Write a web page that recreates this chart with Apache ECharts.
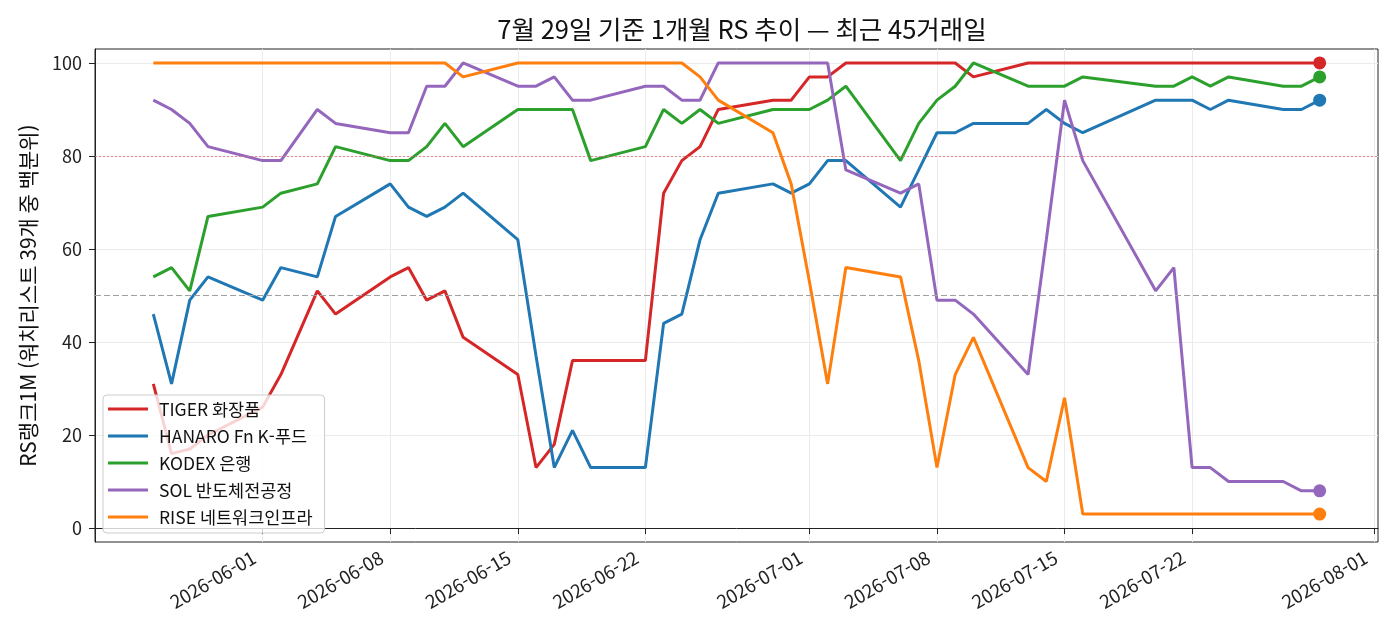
<!DOCTYPE html>
<html lang="ko">
<head>
  <meta charset="UTF-8">
  <title>RS 추이</title>
  <script src="https://cdn.jsdelivr.net/npm/echarts@6/dist/echarts.min.js"></script>
  <style>
    html, body { margin: 0; padding: 0; background: #fff; }
  </style>
</head>
<body>
  <div id="chart" style="width:1400px;height:644px;"></div>
  <script>
    // 거래일 (최근 45거래일)
    var dates = [
      '2026-05-26','2026-05-27','2026-05-28','2026-05-29',
      '2026-06-01','2026-06-02','2026-06-04','2026-06-05',
      '2026-06-08','2026-06-09','2026-06-10','2026-06-11','2026-06-12',
      '2026-06-15','2026-06-16','2026-06-17','2026-06-18','2026-06-19',
      '2026-06-22','2026-06-23','2026-06-24','2026-06-25','2026-06-26',
      '2026-06-29','2026-06-30','2026-07-01','2026-07-02','2026-07-03',
      '2026-07-06','2026-07-07','2026-07-08','2026-07-09','2026-07-10',
      '2026-07-13','2026-07-14','2026-07-15','2026-07-16',
      '2026-07-20','2026-07-21','2026-07-22','2026-07-23','2026-07-24',
      '2026-07-27','2026-07-28','2026-07-29'
    ];

    var names = ['TIGER 화장품', 'HANARO Fn K-푸드', 'KODEX 은행', 'SOL 반도체전공정', 'RISE 네트워크인프라'];
    var colors = ['#d62728', '#1f77b4', '#2ca02c', '#9467bd', '#ff7f0e'];

    var tiger = [31,16,17,20, 26,33,51,46, 54,56,49,51,41, 33,13,18,36,36,
                 36,72,79,82,90, 92,92,97,97,100, 100,100,100,100,97,
                 100,100,100,100, 100,100,100,100,100, 100,100,100];
    var hanaro = [46,31,49,54, 49,56,54,67, 74,69,67,69,72, 62,37,13,21,13,
                  13,44,46,62,72, 74,72,74,79,79, 69,77,85,85,87,
                  87,90,87,85, 92,92,92,90,92, 90,90,92];
    var kodex = [54,56,51,67, 69,72,74,82, 79,79,82,87,82, 90,90,90,90,79,
                 82,90,87,90,87, 90,90,90,92,95, 79,87,92,95,100,
                 95,95,95,97, 95,95,97,95,97, 95,95,97];
    var sol = [92,90,87,82, 79,79,90,87, 85,85,95,95,100, 95,95,97,92,92,
               95,95,92,92,100, 100,100,100,100,77, 72,74,49,49,46,
               33,62,92,79, 51,56,13,13,10, 10,8,8];
    var rise = [100,100,100,100, 100,100,100,100, 100,100,100,100,97, 100,100,100,100,100,
                100,100,100,97,92, 85,74,53,31,56, 54,36,13,33,41,
                13,10,28,3, 3,3,3,3,3, 3,3,3];

    var values = [tiger, hanaro, kodex, sol, rise];

    var xTicks = ['2026-06-01','2026-06-08','2026-06-15','2026-06-22','2026-07-01',
                  '2026-07-08','2026-07-15','2026-07-22','2026-08-01'];
    var yTicks = [0, 20, 40, 60, 80, 100];
    var refHigh = 80, refMid = 50;

    var FONT = '"Noto Sans CJK KR", "Noto Sans", sans-serif';

    function toTime(s) {
      var p = s.split('-');
      return Date.UTC(+p[0], +p[1] - 1, +p[2]);
    }
    function pad(n) { return n < 10 ? '0' + n : '' + n; }

    var t0 = toTime(dates[0]), t1 = toTime(dates[dates.length - 1]);
    var margin = (t1 - t0) * 0.05;

    var series = names.map(function (nm, i) {
      var data = dates.map(function (d, j) { return [toTime(d), values[i][j]]; });
      var last = data[data.length - 1];
      var s = {
        name: nm,
        type: 'line',
        data: data,
        symbol: 'none',
        lineStyle: { width: 3, color: colors[i] },
        itemStyle: { color: colors[i] },
        z: 2,
        markPoint: {
          silent: true,
          symbol: 'circle',
          symbolSize: 13,
          label: { show: false },
          itemStyle: { color: colors[i] },
          data: [{ coord: last }]
        }
      };
      if (i === 0) {
        s.markLine = {
          silent: true,
          symbol: 'none',
          label: { show: false },
          data: [
            { yAxis: refHigh, lineStyle: { color: '#e07070', type: [2, 2], width: 1, opacity: 0.8 } },
            { yAxis: refMid, lineStyle: { color: '#a0a0a0', type: [6, 3], width: 1.2 } }
          ]
        };
      }
      return s;
    });

    var chart = echarts.init(document.getElementById('chart'));
    chart.setOption({
      animation: false,
      backgroundColor: '#fff',
      textStyle: { fontFamily: FONT },
      title: {
        text: '7월 29일 기준 1개월 RS 추이 — 최근 45거래일',
        left: 737,
        top: 12,
        textAlign: 'center',
        textStyle: { fontSize: 25.5, fontWeight: 'normal', color: '#111', fontFamily: FONT }
      },
      grid: {
        left: 95, right: 22, top: 49, bottom: 102,
        show: true, borderColor: '#222', borderWidth: 1
      },
      legend: {
        orient: 'vertical',
        left: 103,
        top: 395,
        z: 20,
        data: names.map(function (n) { return { name: n, icon: 'rect' }; }),
        itemWidth: 40,
        itemHeight: 3,
        itemGap: 7,
        padding: [4, 12, 6, 5],
        backgroundColor: 'rgba(255,255,255,0.8)',
        borderColor: '#cccccc',
        borderWidth: 1,
        borderRadius: 4,
        textStyle: { fontSize: 17.5, lineHeight: 20, color: '#111', padding: [0, 0, 0, 6], fontFamily: FONT }
      },
      xAxis: {
        type: 'value',
        min: t0 - margin,
        max: t1 + margin,
        axisLine: { show: true, lineStyle: { color: '#222' } },
        axisTick: { show: true, length: 6, lineStyle: { color: '#222' },
                    customValues: xTicks.map(toTime) },
        axisLabel: {
          customValues: xTicks.map(toTime),
          rotate: 30,
          fontSize: 18.5,
          color: '#222',
          margin: 9,
          padding: [0, 10, 0, 0],
          formatter: function (v) {
            var d = new Date(v);
            return d.getUTCFullYear() + '-' + pad(d.getUTCMonth() + 1) + '-' + pad(d.getUTCDate());
          }
        },
        splitLine: { show: true, lineStyle: { color: '#ebebeb', width: 1 } }
      },
      yAxis: {
        type: 'value',
        min: -3,
        max: 103,
        name: 'RS랭크1M (워치리스트 39개 중 백분위)',
        nameLocation: 'middle',
        nameGap: 56,
        nameTextStyle: { fontSize: 21, color: '#111', fontFamily: FONT },
        axisLine: { show: true, lineStyle: { color: '#222' } },
        axisTick: { show: true, length: 6, lineStyle: { color: '#222' }, customValues: yTicks },
        axisLabel: { customValues: yTicks, fontSize: 18, color: '#222', margin: 13 },
        splitLine: { show: true, lineStyle: { color: '#ebebeb', width: 1 } }
      },
      series: series
    });
  </script>
</body>
</html>
